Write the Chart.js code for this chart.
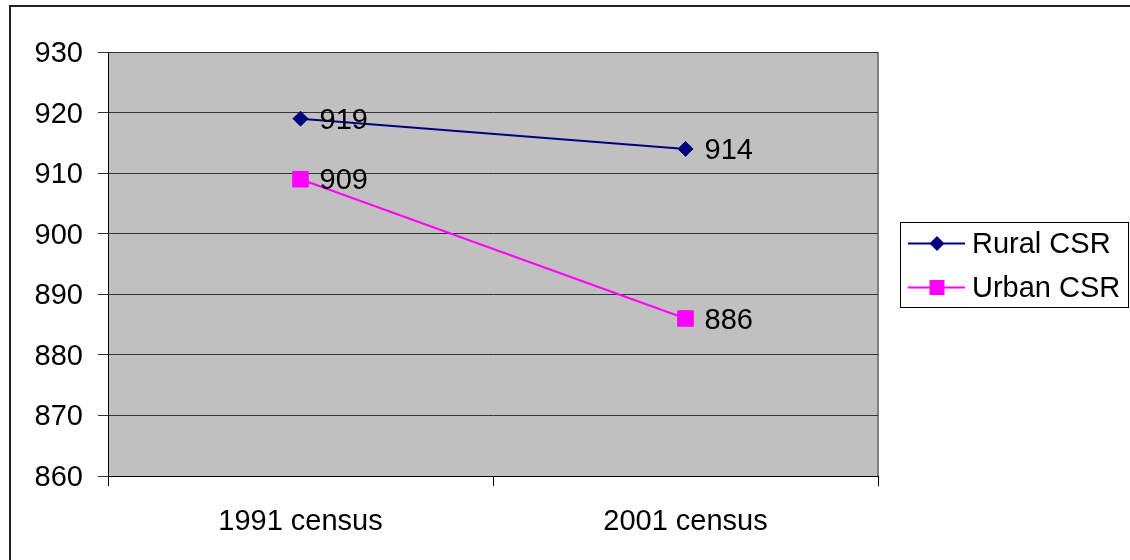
<!DOCTYPE html>
<html>
<head>
<meta charset="utf-8">
<script src="https://cdn.jsdelivr.net/npm/chart.js@4"></script>
<style>
  html, body { margin: 0; padding: 0; background: #fff; }
  #wrap { width: 1130px; height: 560px; }
</style>
</head>
<body>
<div id="wrap"><canvas id="c" width="1130" height="560"></canvas></div>
<script>
const categories = ['1991 census', '2001 census'];
const ruralCSR = [919, 914];
const urbanCSR = [909, 886];
const seriesNames = ['Rural CSR', 'Urban CSR'];
const yMin = 860, yMax = 930, yStep = 10;

const FONT = '"Liberation Sans", Arial, sans-serif';

const framePlugin = {
  id: 'frame',
  beforeDraw(chart) {
    const ctx = chart.ctx;
    const a = chart.chartArea;
    ctx.save();
    ctx.fillStyle = '#fff';
    ctx.fillRect(0, 0, chart.width, chart.height);
    ctx.strokeStyle = '#222';
    ctx.lineWidth = 2;
    ctx.strokeRect(10, 6, 1200, 700);
    ctx.fillStyle = '#C0C0C0';
    ctx.fillRect(a.left, a.top, a.right - a.left, a.bottom - a.top);
    ctx.strokeStyle = '#808080';
    ctx.lineWidth = 2;
    ctx.beginPath();
    ctx.moveTo(a.right, a.top);
    ctx.lineTo(a.right, a.bottom);
    ctx.stroke();
    ctx.restore();
  },
  afterDatasetsDraw(chart) {
    const ctx = chart.ctx;
    ctx.save();
    ctx.font = '29px ' + FONT;
    ctx.fillStyle = '#000';
    ctx.textAlign = 'left';
    ctx.textBaseline = 'middle';
    chart.data.datasets.forEach((ds, i) => {
      const meta = chart.getDatasetMeta(i);
      meta.data.forEach((pt, j) => {
        ctx.fillText(String(ds.data[j]), pt.x + 19, pt.y + 2);
      });
    });
    ctx.restore();
  },
  afterDraw(chart) {
    const ctx = chart.ctx;
    ctx.save();
    ctx.strokeStyle = '#000';
    ctx.lineWidth = 1;
    ctx.strokeRect(900.5, 222.5, 228, 85);
    const rows = [243.5, 287.5];
    chart.data.datasets.forEach((ds, i) => {
      const y = rows[i];
      ctx.strokeStyle = ds.borderColor;
      ctx.lineWidth = 2;
      ctx.beginPath();
      ctx.moveTo(908, y);
      ctx.lineTo(965, y);
      ctx.stroke();
      ctx.fillStyle = ds.backgroundColor;
      ctx.beginPath();
      if (ds.pointStyle === 'rectRot') {
        const r = 7.5;
        ctx.moveTo(937, y - r);
        ctx.lineTo(937 + r, y);
        ctx.lineTo(937, y + r);
        ctx.lineTo(937 - r, y);
        ctx.closePath();
      } else {
        ctx.rect(937 - 7.5, y - 7.5, 15, 15);
      }
      ctx.fill();
      ctx.fillStyle = '#000';
      ctx.font = '29px ' + FONT;
      ctx.textAlign = 'left';
      ctx.textBaseline = 'middle';
      ctx.fillText(ds.label, 972, y + 1);
    });
    ctx.restore();
  }
};

new Chart(document.getElementById('c'), {
  type: 'line',
  data: {
    labels: categories,
    datasets: [
      {
        label: seriesNames[0],
        data: ruralCSR,
        borderColor: '#000080',
        backgroundColor: '#000080',
        borderWidth: 2,
        pointStyle: 'rectRot',
        pointRadius: 7.5,
        pointHoverRadius: 7.5,
        pointBorderWidth: 1,
        tension: 0
      },
      {
        label: seriesNames[1],
        data: urbanCSR,
        borderColor: '#FF00FF',
        backgroundColor: '#FF00FF',
        borderWidth: 2,
        pointStyle: 'rect',
        pointRadius: 11,
        pointHoverRadius: 11,
        pointBorderWidth: 1,
        tension: 0
      }
    ]
  },
  options: {
    responsive: false,
    animation: false,
    devicePixelRatio: 1,
    layout: { padding: { left: 0, top: 52, right: 252, bottom: 0 } },
    plugins: {
      legend: { display: false },
      tooltip: { enabled: false }
    },
    scales: {
      x: {
        type: 'category',
        offset: true,
        grid: {
          offset: true,
          drawOnChartArea: false,
          drawTicks: true,
          tickLength: 10,
          color: '#000',
          lineWidth: 1
        },
        border: { display: true, color: '#000', width: 1 },
        ticks: {
          color: '#000',
          font: { family: FONT, size: 29 },
          padding: 19,
          maxRotation: 0,
          autoSkip: false
        },
        afterFit(scale) { scale.height = 84; }
      },
      y: {
        min: yMin,
        max: yMax,
        grid: {
          drawOnChartArea: true,
          drawTicks: true,
          tickLength: 10,
          color: '#333',
          lineWidth: 1
        },
        border: { display: true, color: '#000', width: 1 },
        ticks: {
          stepSize: yStep,
          color: '#000',
          font: { family: FONT, size: 29 },
          padding: 15,
          labelOffset: 2
        },
        afterFit(scale) { scale.width = 108; }
      }
    }
  },
  plugins: [framePlugin]
});
</script>
</body>
</html>
